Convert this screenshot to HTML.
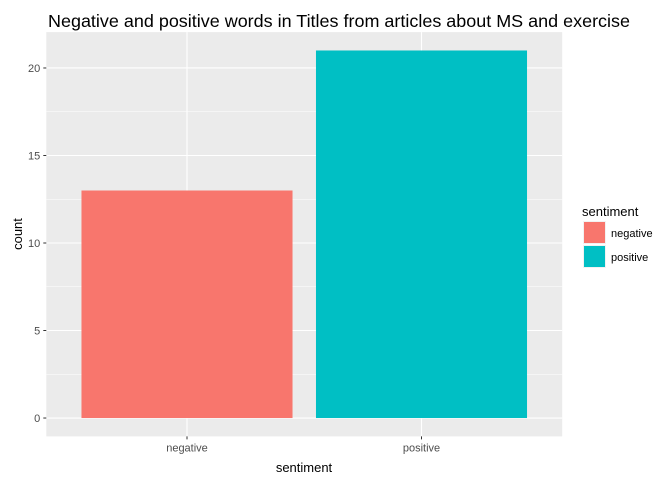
<!DOCTYPE html>
<html><head><meta charset="utf-8"><style>
body{margin:0;background:#fff;font-family:"Liberation Sans",Arial,sans-serif}
</style></head><body>
<svg id="chart" width="672" height="480" xmlns="http://www.w3.org/2000/svg" font-family="Liberation Sans, Arial, sans-serif">
<rect width="672" height="480" fill="#fff"/>
<text x="48" y="27" font-size="17.5" textLength="582" lengthAdjust="spacingAndGlyphs" fill="#000">Negative and positive words in Titles from articles about MS and exercise</text>
<rect x="46.3" y="32.1" width="515.9" height="404.3" fill="#ebebeb"/>
<g id="grid"></g>
<g id="bars"></g>
<g id="axes"></g>
<text x="304" y="472" font-size="13" text-anchor="middle" fill="#000">sentiment</text>
<text transform="translate(22,234) rotate(-90)" font-size="13" text-anchor="middle" fill="#000">count</text>
<g>
<text x="582" y="216" font-size="13" fill="#000">sentiment</text>
<rect x="583" y="221" width="23" height="23" fill="#f2f2f2"/>
<rect x="584" y="222" width="21" height="21" fill="#F8766D"/>
<text x="611" y="237" font-size="11" fill="#000">negative</text>
<rect x="583" y="245" width="23" height="23" fill="#f2f2f2"/>
<rect x="584" y="246" width="21" height="21" fill="#00BFC4"/>
<text x="611" y="261" font-size="11" fill="#000">positive</text>
</g>
</svg>
<script>
const categories = ["negative","positive"];
const counts = [13,21];
const colors = ["#F8766D","#00BFC4"];
const yTicks = [0,5,10,15,20];
const NS="http://www.w3.org/2000/svg";
const px0=46.3, px1=562.2, py0=436.4, py1=32.1;
const ymin=-1.05, ymax=22.05;
function y(v){return py0-(v-ymin)/(ymax-ymin)*(py0-py1);}
const step=(px1-px0)/(categories.length+0.2);
function xc(i){return px0+step*(0.6+i);}
function mk(tag,attrs,parent){const e=document.createElementNS(NS,tag);for(const k in attrs)e.setAttribute(k,attrs[k]);parent.appendChild(e);return e;}
const grid=document.getElementById('grid'), bars=document.getElementById('bars'), axes=document.getElementById('axes');
for(let i=0;i<yTicks.length-1;i++){
  const m=(yTicks[i]+yTicks[i+1])/2;
  const l=mk('line',{x1:px0,x2:px1,y1:y(m),y2:y(m),stroke:'#fff','stroke-width':0.5},grid);
  
  
}
{const m=yTicks[yTicks.length-1]+2.5; if(m<ymax){const l=mk('line',{x1:px0,x2:px1,y1:y(m),y2:y(m),stroke:'#fff','stroke-width':0.5},grid);
  
  }}
yTicks.forEach(t=>{
  const l=mk('line',{x1:px0,x2:px1,y1:y(t),y2:y(t),stroke:'#fff','stroke-width':1.1},grid);
  
  
  const tk=mk('line',{x1:px0-3,x2:px0,y1:y(t),y2:y(t),stroke:'#333','stroke-width':1},axes);
  
  
  const tx=mk('text',{x:px0-6,y:y(t)+4,'font-size':11,'text-anchor':'end',fill:'#4d4d4d'},axes);
  tx.textContent=t;
  
  
});
categories.forEach((c,i)=>{
  const l=mk('line',{x1:xc(i),x2:xc(i),y1:py0,y2:py1,stroke:'#fff','stroke-width':1.1},grid);
  
  
  const w=step*0.9;
  const b=mk('rect',{x:xc(i)-w/2,y:y(counts[i]),width:w,height:y(0)-y(counts[i]),fill:colors[i]},bars);
  
  
  const tk=mk('line',{x1:xc(i),x2:xc(i),y1:py0,y2:py0+3,stroke:'#333','stroke-width':1},axes);
  
  
  const tx=mk('text',{x:xc(i),y:py0+15,'font-size':11,'text-anchor':'middle',fill:'#4d4d4d'},axes);
  tx.textContent=c;
  
  
});
</script>
</body></html>
